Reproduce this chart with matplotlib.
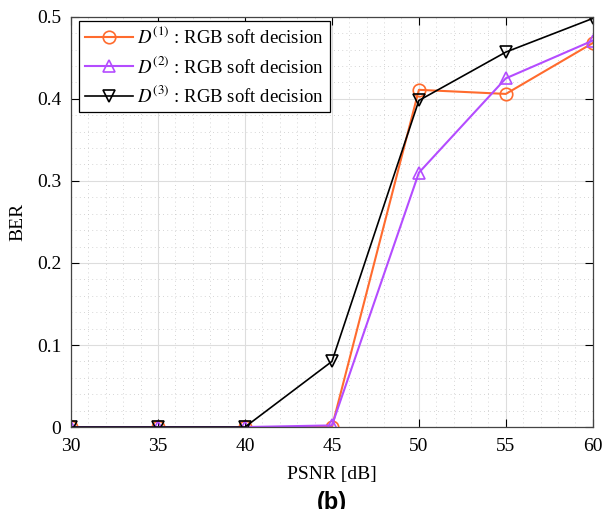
import matplotlib
matplotlib.use("Agg")
import matplotlib.pyplot as plt
from matplotlib.ticker import MultipleLocator

psnr = [30, 35, 40, 45, 50, 55, 60]
ber_d1 = [0.0, 0.0, 0.0, 0.0, 0.411, 0.406, 0.468]
ber_d2 = [0.0, 0.0, 0.0, 0.002, 0.310, 0.425, 0.471]
ber_d3 = [0.0, 0.0, 0.0, 0.080, 0.398, 0.457, 0.498]
labels = [r'$D^{\mathit{(1)}}$ : RGB soft decision',
          r'$D^{\mathit{(2)}}$ : RGB soft decision',
          r'$D^{\mathit{(3)}}$ : RGB soft decision']

plt.rcParams['font.family'] = ['Liberation Serif', 'DejaVu Serif']
plt.rcParams['mathtext.fontset'] = 'stix'

fig = plt.figure(figsize=(6.13, 5.09), dpi=100)
ax = fig.add_axes([0.116, 0.161, 0.851, 0.806])

ax.plot(psnr, ber_d1, '-', color='#FF6B2E', marker='o', mfc='none', ms=9, mew=1.2, lw=1.5, label=labels[0])
ax.plot(psnr, ber_d2, '-', color='#B44CFF', marker='^', mfc='none', ms=9, mew=1.2, lw=1.5, label=labels[1])
ax.plot(psnr, ber_d3, '-', color='black', marker='v', mfc='none', ms=9, mew=1.2, lw=1.2, label=labels[2])

ax.set_xlim(30, 60)
ax.set_ylim(0, 0.5)
ax.set_xticks([30, 35, 40, 45, 50, 55, 60])
ax.set_yticks([0, 0.1, 0.2, 0.3, 0.4, 0.5])
ax.set_yticklabels(['0', '0.1', '0.2', '0.3', '0.4', '0.5'])
ax.xaxis.set_minor_locator(MultipleLocator(1))
ax.yaxis.set_minor_locator(MultipleLocator(0.02))
ax.grid(which='major', color='#DDDDDD', lw=0.8, ls='-')
ax.grid(which='minor', color='#C8C8C8', lw=0.6, ls=(0, (1, 4)))
ax.set_axisbelow(True)
ax.tick_params(which='both', direction='in', top=True, right=True, labelsize=14)
ax.tick_params(which='major', length=6)
ax.tick_params(axis='y', which='major', pad=7)
ax.tick_params(axis='x', which='major', pad=8)
ax.tick_params(which='minor', length=0)
for s in ax.spines.values():
    s.set_color('#444444')
    s.set_linewidth(0.9)

ax.set_xlabel('PSNR [dB]', fontsize=14, labelpad=8)
ax.set_ylabel('BER', fontsize=14, labelpad=8)

leg = ax.legend(loc='upper left', bbox_to_anchor=(8 / 522, 1 - 4 / 410), fontsize=13.5,
                frameon=True, fancybox=False, edgecolor='black', framealpha=1,
                borderpad=0.3, labelspacing=0.45, handlelength=2.55, handletextpad=0.25,
                borderaxespad=0)
leg.get_frame().set_linewidth(0.9)

fig.text(0.542, 0.012, '(b)', fontsize=17, fontweight='bold', family='Liberation Sans',
         ha='center', va='center')

fig.savefig('out.png', dpi=100)
